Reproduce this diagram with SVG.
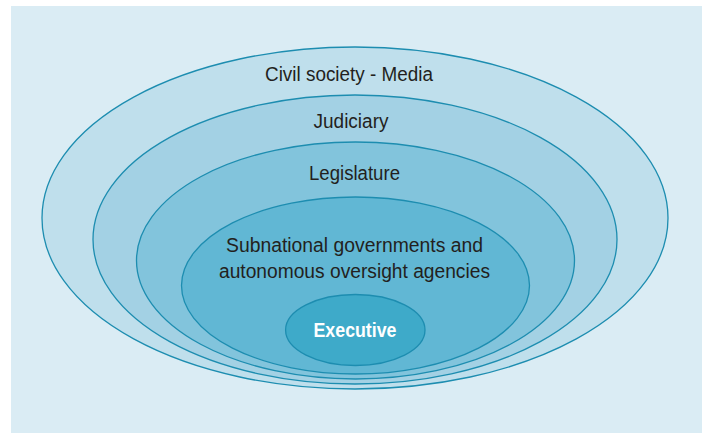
<svg xmlns="http://www.w3.org/2000/svg" width="702" height="433" viewBox="0 0 702 433">
<style>
.ring{stroke:#1d8db0;stroke-width:1.3}
.lbl{font-family:"Liberation Sans Narrow","Liberation Sans",sans-serif;font-size:20px;fill:#231f20;text-anchor:middle}
.exec{font-family:"Liberation Sans Narrow","Liberation Sans",sans-serif;font-size:21px;font-weight:bold;fill:#ffffff;text-anchor:middle}
</style>
<rect x="0" y="0" width="702" height="433" fill="#ffffff"/>
<rect x="11" y="6" width="691" height="427" fill="#daecf4"/>
<g id="civil-society">
<ellipse class="ring" cx="355" cy="218" rx="313" ry="171" fill="#bfdfec"/>
<text class="lbl" x="349" y="81" textLength="168" lengthAdjust="spacingAndGlyphs">Civil society - Media</text>
</g>
<g id="judiciary">
<ellipse class="ring" cx="355" cy="239.5" rx="262" ry="144.5" fill="#a3d1e4"/>
<text class="lbl" x="351" y="128" textLength="75" lengthAdjust="spacingAndGlyphs">Judiciary</text>
</g>
<g id="legislature">
<ellipse class="ring" cx="355.5" cy="260.5" rx="219" ry="118.5" fill="#82c4dc"/>
<text class="lbl" x="354.5" y="180" textLength="91" lengthAdjust="spacingAndGlyphs">Legislature</text>
</g>
<g id="subnational">
<ellipse class="ring" cx="355.5" cy="285.5" rx="174" ry="88.5" fill="#61b7d4"/>
<text class="lbl" x="354.5" y="252" textLength="257" lengthAdjust="spacingAndGlyphs">Subnational governments and</text>
<text class="lbl" x="354.5" y="277.5" textLength="271" lengthAdjust="spacingAndGlyphs">autonomous oversight agencies</text>
</g>
<g id="executive">
<ellipse class="ring" cx="355.3" cy="330" rx="69.7" ry="35.5" fill="#3eaac9"/>
<text class="exec" x="355" y="336.5" textLength="83" lengthAdjust="spacingAndGlyphs">Executive</text>
</g>
<g id="connectors"></g>
</svg>
